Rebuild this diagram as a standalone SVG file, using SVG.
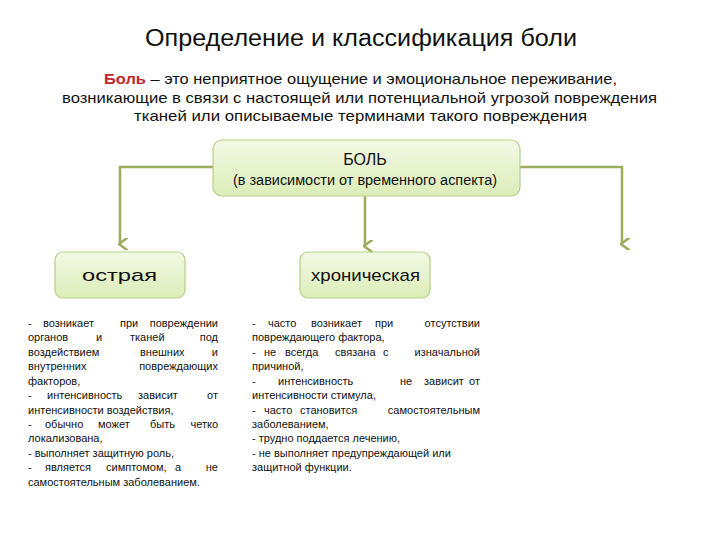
<svg xmlns="http://www.w3.org/2000/svg" width="720" height="540" viewBox="0 0 720 540">
<style>
text{font-family:"Liberation Sans","DejaVu Sans",sans-serif;fill:#111}
.t{font-size:23px}
.d{font-size:15px}
.b{fill:url(#g);stroke:#b5cf86;stroke-width:1.2}
.c{fill:none;stroke:#9bad5c;stroke-width:2.5}
.s{font-size:11px}
.e{text-anchor:end}
</style>
<defs>
<linearGradient id="g" x1="0" y1="0" x2="0" y2="1"><stop offset="0" stop-color="#f3f9e4"/><stop offset="1" stop-color="#dcedb8"/></linearGradient>
<marker id="a" viewBox="0 0 10 10" refX="5" refY="8" markerWidth="5" markerHeight="5" orient="auto-start-reverse"><path d="M0 2 L5 9 L10 2" fill="none" stroke="#9bad5c" stroke-width="2"/></marker>
</defs>
<text class="t" x="145" y="46" textLength="432" lengthAdjust="spacingAndGlyphs">Определение и классификация боли</text>
<text class="d" x="104" y="84" textLength="513" lengthAdjust="spacingAndGlyphs"><tspan fill="#c0282d" font-weight="bold">Боль</tspan> – это неприятное ощущение и эмоциональное переживание,</text>
<text class="d" x="62" y="103" textLength="595" lengthAdjust="spacingAndGlyphs">возникающие в связи с настоящей или потенциальной угрозой повреждения</text>
<text class="d" x="134" y="121" textLength="453" lengthAdjust="spacingAndGlyphs">тканей или описываемые терминами такого повреждения</text>
<g id="connectors">
<path class="c" d="M213 167 H120 V244" marker-end="url(#a)"/>
<path class="c" d="M520 167 H622 V244" marker-end="url(#a)"/>
<path class="c" d="M365 196 V246" marker-end="url(#a)"/>
</g>
<g id="pain"><rect class="b" x="213" y="140" width="307" height="56" rx="9"/>
<text x="365" y="165" text-anchor="middle" font-size="16">БОЛЬ</text>
<text x="233" y="185" font-size="14" textLength="264" lengthAdjust="spacingAndGlyphs">(в зависимости от временного аспекта)</text></g>
<g id="acute"><rect class="b" x="55" y="252" width="130" height="46" rx="8"/>
<text x="82" y="281" font-size="17" textLength="75" lengthAdjust="spacingAndGlyphs">острая</text></g>
<g id="chronic"><rect class="b" x="300" y="252" width="130" height="46" rx="8"/>
<text x="311" y="281" font-size="17" textLength="109" lengthAdjust="spacingAndGlyphs">хроническая</text></g>
<g id="acute-text">
<text class="s" y="327"><tspan x="28">-</tspan><tspan x="43">возникает</tspan><tspan x="120">при</tspan><tspan x="218" class="e">повреждении</tspan></text>
<text class="s" y="341"><tspan x="28">органов</tspan><tspan x="96">и</tspan><tspan x="130">тканей</tspan><tspan x="218" class="e">под</tspan></text>
<text class="s" y="356"><tspan x="28">воздействием</tspan><tspan x="140">внешних</tspan><tspan x="218" class="e">и</tspan></text>
<text class="s" y="370"><tspan x="28">внутренних</tspan><tspan x="218" class="e">повреждающих</tspan></text>
<text class="s" x="28" y="385">факторов,</text>
<text class="s" y="399"><tspan x="28">-</tspan><tspan x="47">интенсивность</tspan><tspan x="138">зависит</tspan><tspan x="218" class="e">от</tspan></text>
<text class="s" x="28" y="414">интенсивности воздействия,</text>
<text class="s" y="428"><tspan x="28">-</tspan><tspan x="45">обычно</tspan><tspan x="98">может</tspan><tspan x="150">быть</tspan><tspan x="218" class="e">четко</tspan></text>
<text class="s" x="28" y="442">локализована,</text>
<text class="s" x="28" y="457">- выполняет защитную роль,</text>
<text class="s" y="471"><tspan x="28">-</tspan><tspan x="45">является</tspan><tspan x="106">симптомом,</tspan><tspan x="175">а</tspan><tspan x="218" class="e">не</tspan></text>
<text class="s" x="28" y="486">самостоятельным заболеванием.</text>
</g>
<g id="chronic-text">
<text class="s" y="327"><tspan x="252">-</tspan><tspan x="268">часто</tspan><tspan x="311">возникает</tspan><tspan x="375">при</tspan><tspan x="480" class="e">отсутствии</tspan></text>
<text class="s" x="252" y="341">повреждающего фактора,</text>
<text class="s" y="356"><tspan x="252">-</tspan><tspan x="264">не</tspan><tspan x="285">всегда</tspan><tspan x="335">связана</tspan><tspan x="383">с</tspan><tspan x="480" class="e">изначальной</tspan></text>
<text class="s" x="252" y="370">причиной,</text>
<text class="s" y="385"><tspan x="252">-</tspan><tspan x="278">интенсивность</tspan><tspan x="400">не</tspan><tspan x="424">зависит</tspan><tspan x="480" class="e">от</tspan></text>
<text class="s" x="252" y="399">интенсивности стимула,</text>
<text class="s" y="414"><tspan x="252">-</tspan><tspan x="264">часто</tspan><tspan x="300">становится</tspan><tspan x="480" class="e">самостоятельным</tspan></text>
<text class="s" x="252" y="428">заболеванием,</text>
<text class="s" x="252" y="442">- трудно поддается лечению,</text>
<text class="s" x="252" y="457">- не выполняет предупреждающей или</text>
<text class="s" x="252" y="471">защитной функции.</text>
</g>
</svg>
